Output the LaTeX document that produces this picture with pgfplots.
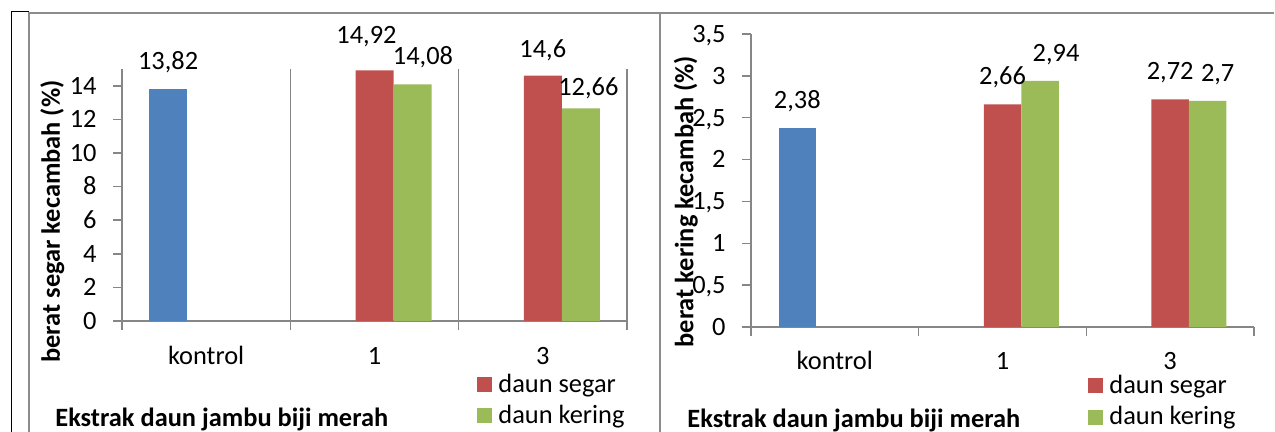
\documentclass[border=0pt]{standalone}
\usepackage{fontspec}
\setmainfont{Carlito}
\usepackage{pgfplots}
\pgfplotsset{compat=1.18}
\usepackage{pgfplotstable}
\definecolor{cblue}{HTML}{4F81BD}
\definecolor{cred}{HTML}{C0504D}
\definecolor{cgreen}{HTML}{9BBB59}
\definecolor{caxis}{HTML}{868686}
\definecolor{cframe}{HTML}{8C8C8C}
\newcommand\fs{\fontsize{13.2}{15.8}\selectfont}

% left chart: berat segar
\pgfplotstableread{
x y dx dy
0 13.82 0 0
}\LB
\pgfplotstableread{
x y dx dy
1 14.92 -4 3.5
2 14.6 0 -0.5
}\LR
\pgfplotstableread{
x y dx dy
1 14.08 5.25 0
2 12.66 3.75 -3.5
}\LG
% right chart: berat kering
\pgfplotstableread{
x y dx dy
0 2.38 0 0
}\RB
\pgfplotstableread{
x y dx dy
1 2.66 0 0
2 2.72 0 0
}\RR
\pgfplotstableread{
x y dx dy
1 2.94 8 0
2 2.70 5 0
}\RG

\pgfplotsset{
  excel/.style={
    scale only axis, anchor=south west,
    ybar=0pt,
    xmin=-0.5, xmax=2.5, ymin=0,
    axis lines=left, axis line style={-, draw=caxis, line width=0.75pt},
    xtick={-0.5,0.5,1.5,2.5}, x tick label as interval, xticklabels={kontrol,1,3},
    tick align=outside, major tick length=4.5pt,
    tick style={draw=caxis, line width=0.75pt},
    xticklabel style={font=\fs, anchor=base, inner sep=0pt, text depth=0pt, yshift=-17.25pt},
    yticklabel style={font=\fs, anchor=base east, inner sep=0pt, text depth=0pt, xshift=-8pt, yshift=-4.15pt},
    /pgf/number format/use comma,
    /pgf/number format/assume math mode=true,
    /pgf/number format/1000 sep={},
    nodes near coords={\pgfmathprintnumber[assume math mode=true,use comma]{\pgfplotspointmeta}},
    visualization depends on={\thisrow{dx} \as \dx},
    visualization depends on={\thisrow{dy} \as \dy},
    every node near coord/.append style={font=\fs, anchor=base, inner sep=0pt, text depth=0pt, black,
      xshift={\dx*1pt}, yshift={(9.75+\dy)*1pt}},
    legend style={draw=none, fill=none, anchor=north west, inner sep=0pt, font=\fs,
      row sep=5pt, nodes={inner sep=0pt},
      /tikz/every odd column/.append style={column sep=3pt}},
    legend cell align=left,
    xlabel style={anchor=base west, font=\bfseries\fs, inner sep=0pt},
    ylabel style={anchor=base, font=\bfseries\fs, inner sep=0pt},
  },
  sq/.style={legend image code/.code={\fill[##1] (0pt,-3.75pt) rectangle (7.5pt,3.75pt);}},
}

\begin{document}
\begin{tikzpicture}
\useasboundingbox (0,0) rectangle (637.5pt,216pt);
\draw[cframe, line width=0.75pt] (14.5pt,0) -- (14.5pt,209.5pt) -- (637pt,209.5pt);
\draw[cframe, line width=0.75pt] (330pt,0) -- (330pt,209.5pt);
\draw[black, line width=0.5pt] (5.5pt,0) -- (5.5pt,210pt) -- (14.5pt,210pt);

\begin{axis}[excel,
  width=252.5pt, height=126pt, at={(61pt,55.5pt)},
  bar width=19pt, ymax=15, ytick={0,2,4,6,8,10,12,14},
  xmajorgrids, major grid style={draw=caxis, line width=0.75pt},
  xlabel={Ekstrak daun jambu biji merah},
  ylabel={berat segar kecambah (\%)},
  xlabel style={at={(axis description cs:-0.1327,-0.4167)}},
  ylabel style={at={(axis description cs:-0.1228,0.395)}},
  legend style={at={(axis description cs:0.703,-0.2083)}},
]
\addplot[fill=cblue, draw=none, bar shift=-19pt, forget plot] table[x=x,y=y] {\LB};
\addplot[fill=cred, draw=none, bar shift=0pt, sq] table[x=x,y=y] {\LR};
\addplot[fill=cgreen, draw=none, bar shift=19pt, sq] table[x=x,y=y] {\LG};
\legend{daun segar, daun kering}
\end{axis}

\begin{axis}[excel,
  width=251.5pt, height=146.5pt, at={(375.5pt,52.5pt)},
  bar width=18.75pt, ymax=3.5, ytick={0,0.5,1,1.5,2,2.5,3,3.5},
  xticklabel style={yshift=0.5pt},
  xlabel={Ekstrak daun jambu biji merah},
  ylabel={berat kering kecambah (\%)},
  xlabel style={at={(axis description cs:-0.1272,-0.3447)}},
  ylabel style={at={(axis description cs:-0.1145,0.428)}},
  legend style={at={(axis description cs:0.670,-0.1625)}},
]
\addplot[fill=cblue, draw=none, bar shift=-18.75pt, forget plot] table[x=x,y=y] {\RB};
\addplot[fill=cred, draw=none, bar shift=0pt, sq] table[x=x,y=y] {\RR};
\addplot[fill=cgreen, draw=none, bar shift=18.75pt, sq] table[x=x,y=y] {\RG};
\legend{daun segar, daun kering}
\end{axis}
\end{tikzpicture}
\end{document}
